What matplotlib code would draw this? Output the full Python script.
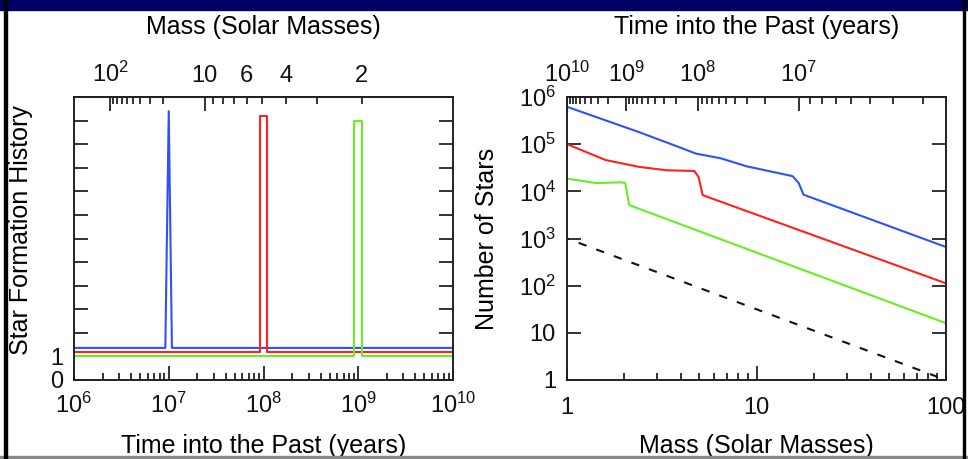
import numpy as np
import matplotlib
matplotlib.use('Agg')
import matplotlib.pyplot as plt
from matplotlib.patches import Rectangle
from matplotlib.ticker import NullLocator

plt.rcParams['font.family'] = ['Liberation Sans', 'DejaVu Sans']
plt.rcParams['mathtext.fontset'] = 'custom'
plt.rcParams['mathtext.rm'] = 'Liberation Sans'
plt.rcParams['mathtext.it'] = 'Liberation Sans:italic'
plt.rcParams['mathtext.bf'] = 'Liberation Sans:bold'
plt.rcParams['font.size'] = 17
plt.rcParams['axes.labelsize'] = 18
plt.rcParams['text.color'] = '#111111'
plt.rcParams['xtick.color'] = '#111111'
plt.rcParams['ytick.color'] = '#111111'

table_mass = [0.3, 1.0, 2.05, 4.9, 10.0, 16.7, 100.0, 1000.0]
table_logt = [11.7, 10.0, 9.0, 8.0, 7.38, 7.0, 6.38, 5.38]

# left panel: star formation history (offset a little so the lines don't overlap)
sfh_blue_t = [1e6, 9.2e6, 1.0e7, 1.08e7, 1e10]
sfh_blue_v = [1.36, 1.36, 11.4, 1.36, 1.36]
sfh_red_t = [1e6, 9.1e7, 9.1e7, 1.1e8, 1.1e8, 1e10]
sfh_red_v = [1.18, 1.18, 11.2, 11.2, 1.18, 1.18]
sfh_green_t = [1e6, 9.0e8, 9.0e8, 1.1e9, 1.1e9, 1e10]
sfh_green_v = [1.0, 1.0, 11.0, 11.0, 1.0, 1.0]

# right panel: number of stars vs mass
n_blue_m = [1.0, 2.4, 3.5, 4.8, 6.5, 8.85, 15.5, 16.7, 17.7, 100.0]
n_blue_n = [6.2e5, 1.8e5, 1.02e5, 6.3e4, 5.0e4, 3.4e4, 2.1e4, 1.5e4, 8.5e3, 660]
n_red_m = [1.0, 1.6, 2.4, 3.34, 4.7, 4.95, 5.2, 100.0]
n_red_n = [1.0e5, 4.6e4, 3.3e4, 2.8e4, 2.7e4, 2.0e4, 8.3e3, 112]
n_green_m = [1.0, 1.42, 1.93, 2.03, 2.13, 100.0]
n_green_n = [1.86e4, 1.5e4, 1.55e4, 1.5e4, 5.1e3, 16]
n_dash_m = [1.0, 100.0]
n_dash_n = [1000, 1]

time_ticks = [1e10, 1e9, 1e8, 1e7]

BLUE = '#3050ff'
RED = '#ff2020'
GREEN = '#66ee22'

lm = np.log10(table_mass)
lt = np.array(table_logt)


def mass_to_time(m):
    m = np.clip(np.asarray(m, float), 1e-3, None)
    return 10 ** np.interp(np.log10(m), lm, lt)


def time_to_mass(t):
    t = np.clip(np.asarray(t, float), 1e-3, None)
    return 10 ** np.interp(np.log10(t), lt[::-1], lm[::-1])


fig = plt.figure(figsize=(9.68, 4.59), dpi=100)
ax1 = fig.add_axes([74/968, 1-380/459, 379/968, 283/459])
ax2 = fig.add_axes([567/968, 1-380/459, 379/968, 283/459])

for ax in (ax1, ax2):
    for s in ax.spines.values():
        s.set_linewidth(1.4)
        s.set_color('#222222')
    ax.tick_params(which='both', direction='in', top=False, right=True, width=1.2)
    ax.tick_params(which='major', length=10)
    ax.tick_params(which='minor', length=5)

# ---- left panel
ax1.plot(sfh_blue_t, sfh_blue_v, color=BLUE, lw=1.5)
ax1.plot(sfh_red_t, sfh_red_v, color=RED, lw=1.5)
ax1.plot(sfh_green_t, sfh_green_v, color=GREEN, lw=1.5)
ax1.set_xscale('log')
ax1.set_xlim(1e6, 1e10)
ax1.set_ylim(0, 12)
ax1.set_yticks(range(0, 12), labels=['0', '1'] + [''] * 10)
ax1.tick_params(axis='y', pad=8)
ax1.tick_params(axis='x', pad=9)
ax1.set_xlabel('Time into the Past (years)')
ax1.xaxis.set_label_coords(0.5, -0.19)
ax1.set_ylabel('Star Formation History')
ax1.yaxis.set_label_coords(-0.108, 0.53)

sec1 = ax1.secondary_xaxis('top', functions=(time_to_mass, mass_to_time))
sec1.set_xticks([100, 10], labels=['$10^2$', '10'])
minor_m = [90, 80, 70, 60, 50, 40, 30, 20, 9, 8, 7, 6, 5, 4, 3, 2]
minor_lab = ['6' if m == 6 else '4' if m == 4 else '2' if m == 2 else '' for m in minor_m]
sec1.set_xticks(minor_m, labels=minor_lab, minor=True)
sec1.tick_params(which='both', direction='in', pad=7, width=1.2)
sec1.tick_params(which='major', length=10)
sec1.tick_params(which='minor', length=5)
sec1.spines['top'].set_linewidth(1.4)
sec1.set_xlabel('Mass (Solar Masses)', labelpad=20)

# ---- right panel
ax2.plot(n_blue_m, n_blue_n, color=BLUE, lw=1.5)
ax2.plot(n_red_m, n_red_n, color=RED, lw=1.5)
ax2.plot(n_green_m, n_green_n, color=GREEN, lw=1.5)
ax2.plot(n_dash_m, n_dash_n, color='#111111', lw=1.5, ls=(3, (4, 5)))
ax2.set_xscale('log')
ax2.set_yscale('log')
ax2.set_xlim(1, 100)
ax2.set_ylim(1, 1e6)
ax2.set_xticks([1, 10, 100], labels=['1', '10', '100'])
ax2.set_yticks([1, 10, 1e2, 1e3, 1e4, 1e5, 1e6],
               labels=['1', '10', '$10^2$', '$10^3$', '$10^4$', '$10^5$', '$10^6$'])
ax2.yaxis.set_minor_locator(NullLocator())
ax2.tick_params(axis='y', pad=8)
ax2.tick_params(axis='x', pad=12)
ax2.set_xlabel('Mass (Solar Masses)')
ax2.xaxis.set_label_coords(0.5, -0.19)
ax2.set_ylabel('Number of Stars')
ax2.yaxis.set_label_coords(-0.179, 0.5)

sec2 = ax2.secondary_xaxis('top', functions=(mass_to_time, time_to_mass))
sec2.set_xticks(time_ticks, labels=['$10^{10}$', '$10^9$', '$10^8$', '$10^7$'])
sec2.tick_params(which='both', direction='in', pad=7, width=1.2)
sec2.tick_params(which='major', length=10)
sec2.tick_params(which='minor', length=5)
sec2.spines['top'].set_linewidth(1.4)
sec2.set_xlabel('Time into the Past (years)', labelpad=20)

# ---- frame around the slide
fig.add_artist(Rectangle((0, 1-10/459), 1, 10/459, transform=fig.transFigure,
                         color='#000066', zorder=10))
fig.add_artist(Rectangle((4/968, 0), 3/968, 1, transform=fig.transFigure,
                         color='black', zorder=10))
fig.add_artist(Rectangle((963/968, 0), 2/968, 1, transform=fig.transFigure,
                         color='black', zorder=10))
fig.add_artist(Rectangle((0, 1/459), 1, 2/459, transform=fig.transFigure,
                         color='#888888', zorder=9))

fig.savefig('out.png', dpi=100, facecolor='white')
